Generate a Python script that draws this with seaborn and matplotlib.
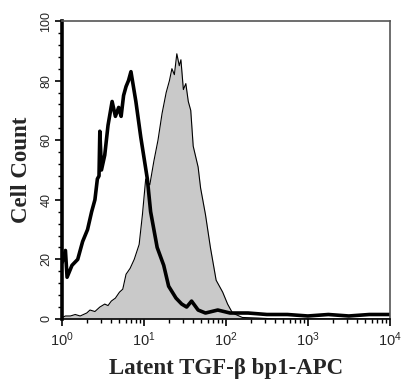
import numpy as np
import pandas as pd
import seaborn as sns
import matplotlib.pyplot as plt
from matplotlib.ticker import MultipleLocator, FixedLocator

# Control (isotype) histogram - thick black line; x read as log10 channel
ctrl_log = [0.0, 0.04, 0.06, 0.12, 0.19, 0.25, 0.31, 0.36, 0.40, 0.43, 0.45, 0.46, 0.48,
            0.52, 0.56, 0.61, 0.65, 0.69, 0.72, 0.75, 0.78, 0.81, 0.84, 0.87, 0.90, 0.96,
            1.04, 1.08, 1.16, 1.24, 1.30, 1.39, 1.46, 1.52, 1.58, 1.66, 1.75, 1.90, 2.05,
            2.27, 2.50, 2.75, 3.00, 3.25, 3.50, 3.75, 4.00]
ctrl_count = [19, 23, 14, 18, 20, 26, 30, 36, 40, 47, 48, 63, 50,
              55, 65, 73, 68, 71, 68, 75, 78, 80, 83, 78, 73, 61,
              47, 36, 24, 18, 11, 7, 5, 4, 6, 3, 2, 3, 2,
              2, 1.5, 1.5, 1, 1.5, 1, 1.5, 1.5]

# Stained histogram - gray filled
stain_log = [0.0, 0.04, 0.10, 0.16, 0.22, 0.30, 0.34, 0.40, 0.46, 0.52, 0.56, 0.60, 0.65,
             0.70, 0.74, 0.78, 0.83, 0.88, 0.94, 0.98, 1.02, 1.07, 1.12, 1.17, 1.22, 1.27,
             1.31, 1.34, 1.37, 1.40, 1.43, 1.45, 1.48, 1.51, 1.54, 1.57, 1.60, 1.66, 1.69,
             1.75, 1.81, 1.88, 1.96, 2.02, 2.08, 2.20, 2.40, 2.60, 3.00, 4.00]
stain_count = [0.5, 1, 1, 1.5, 1, 2, 3, 2.5, 4, 5, 4.5, 6, 7,
               9, 10, 15, 17, 20, 25, 35, 47, 45, 53, 60, 69, 76,
               80, 84, 82, 89, 85, 87, 77, 79, 73, 70, 58, 51, 44,
               35, 24, 13, 9, 5, 2, 0.5, 0.3, 0, 0, 0]

df_ctrl = pd.DataFrame({"x": 10 ** np.array(ctrl_log), "count": ctrl_count})
df_stain = pd.DataFrame({"x": 10 ** np.array(stain_log), "count": stain_count})

sns.set_style("ticks")
fig, ax = plt.subplots(figsize=(4.01, 3.82), dpi=100)
fig.subplots_adjust(left=0.155, right=0.972, top=0.945, bottom=0.165)

ax.fill_between(df_stain["x"], df_stain["count"], color="#c9c9c9", lw=0)
sns.lineplot(data=df_stain, x="x", y="count", ax=ax, color="black", lw=0.8, estimator=None, sort=False)
sns.lineplot(data=df_ctrl, x="x", y="count", ax=ax, color="black", lw=2.6, estimator=None, sort=False)

ax.set_xscale("log")
ax.set_xlim(1, 1e4)
ax.set_ylim(0, 100)
ax.yaxis.set_major_locator(FixedLocator([0, 20, 40, 60, 80, 100]))
ax.yaxis.set_minor_locator(MultipleLocator(4))

for s in ["top", "right"]:
    ax.spines[s].set_color("#555555")
    ax.spines[s].set_linewidth(1.2)
ax.spines["left"].set_linewidth(2.6)
ax.spines["left"].set_color("black")
ax.spines["bottom"].set_linewidth(1.2)
ax.spines["bottom"].set_color("black")

ax.tick_params(axis="both", which="major", direction="out", length=5, width=1.2, color="black")
ax.tick_params(axis="both", which="minor", direction="out", length=3, width=1.0, color="black")
ax.tick_params(axis="y", which="major", pad=2)
for lab in ax.get_yticklabels():
    lab.set_rotation(90)
    lab.set_va("center")
    lab.set_family("Liberation Sans")
    lab.set_fontsize(9)
for lab in ax.get_xticklabels():
    lab.set_family("Liberation Sans")
    lab.set_fontsize(10.5)

ax.set_xlabel("Latent TGF-β bp1-APC", fontsize=16.5, fontweight="bold", family="Liberation Serif", labelpad=6)
ax.set_ylabel("Cell Count", fontsize=16.5, fontweight="bold", family="Liberation Serif", labelpad=6)

fig.savefig("out.png", dpi=100)
